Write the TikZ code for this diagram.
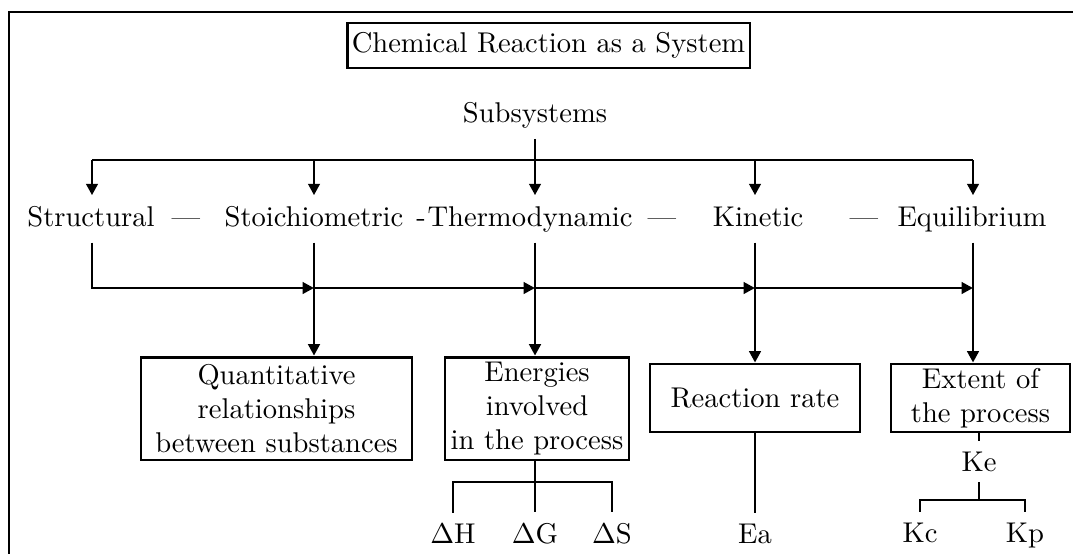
\documentclass[tikz,border=0pt]{standalone}
\usetikzlibrary{arrows.meta}

\begin{document}
\begin{tikzpicture}[x=0.35pt,y=-0.35pt,line width=1pt,
    arr/.style={-{Triangle[length=4pt,width=4pt]}},
    box/.style={draw,align=center,inner sep=0pt},
    sub/.style={anchor=base,text height=6.94pt,text depth=1.94pt},
    leaf/.style={anchor=base}]
      % \draw[help lines](0,0) grid (1073,554);
      \useasboundingbox (0,0) rectangle (1073,554);
      \draw (1073,12) -- (9,12) -- (9,554);

      \draw (548.5,45.5) node[box,minimum width=141pt,minimum height=15.75pt] (title) {Chemical Reaction as a System};
      \draw (535,122) node[leaf] (subsys) {Subsystems};

      % the five subsystems
      \draw (91,226) node[sub] (structural) {Structural};
      \draw (314,226) node[sub] (stoich) {Stoichiometric};
      \draw (530,226) node[sub] (thermo) {Thermodynamic};
      \draw (758,226) node[sub] (kinetic) {Kinetic};
      \draw (972,226) node[sub] (equil) {Equilibrium};
      \draw (186,226) node[sub] (dash1) {---};
      \draw (421,226) node[sub] (dash2) {-};
      \draw (662,226) node[sub] (dash3) {---};
      \draw (864,226) node[sub] (dash4) {---};

      \foreach \n/\x in {st/92,so/314,th/535,ki/755,eq/973}{
        \coordinate (\n-up) at (\x,160);
        \coordinate (\n-lo) at (\x,288);
      }

      \draw (st-up) -- (eq-up);
      \draw[arr] (subsys) -- (subsys |- thermo.north);
      \foreach \n/\m in {st/structural,so/stoich,ki/kinetic,eq/equil}
        \draw[arr] (\n-up) -- (\n-up |- \m.north);

      \draw[arr] (st-lo |- structural.south) |- (so-lo);
      \draw[arr] (so-lo) -- (th-lo);
      \draw[arr] (th-lo) -- (ki-lo);
      \draw[arr] (ki-lo) -- (eq-lo);

      % what each one studies
      \draw (276.5,408.5) node[box,minimum width=94.85pt,minimum height=36pt] (quant) {Quantitative\\relationships\\between substances};
      \draw (537,408.5) node[box,minimum width=64.4pt,minimum height=36pt] (energy) {Energies\\involved\\in the process};
      \draw (755,398) node[box,minimum width=73.5pt,minimum height=23.8pt] (rate) {Reaction rate};
      \draw (980.5,398) node[box,minimum width=62.65pt,minimum height=23.8pt] (extent) {Extent of\\the process};

      \draw[arr] (so-lo |- stoich.south) -- (so-lo |- quant.north);
      \draw[arr] (th-lo |- thermo.south) -- (th-lo |- energy.north);
      \draw[arr] (ki-lo |- kinetic.south) -- (ki-lo |- rate.north);
      \draw[arr] (eq-lo |- equil.south) -- (eq-lo |- extent.north);

      % quantities
      \draw (453,543) node[leaf] (dH) {$\Delta$H};
      \draw (535,543) node[leaf] (dG) {$\Delta$G};
      \draw (612,543) node[leaf] (dS) {$\Delta$S};
      \draw (755,543) node[leaf] (ea) {Ea};
      \draw (979,471) node[leaf] (ke) {Ke};
      \draw (920,542) node[leaf] (kc) {Kc};
      \draw (1025,542) node[leaf] (kp) {Kp};
      \coordinate (ebar) at (535,482);
      \coordinate (kbar) at (979,500);

      \draw (energy.south -| dG) -- (dG);
      \draw (dH) |- (ebar) -| (dS);
      \draw (rate) -- (ea);
      \draw (extent.south -| ke) -- (ke);
      \draw (ke) -- (ke |- kbar);
      \draw (kc) |- (kbar) -| (kp);
\end{tikzpicture}
\end{document}
